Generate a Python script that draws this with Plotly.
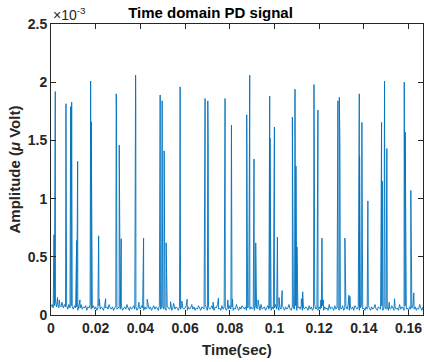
import plotly.graph_objects as go

# ---- data (amplitudes in units of 1e-3 V, times in seconds) ----
baseline_dt = 0.0005
baseline_mv = [
    0.07,0.09,0.06,0.08,0.11,0.07,0.09,0.06,0.08,0.07,0.10,0.06,0.09,0.07,0.08,0.05,0.09,0.06,0.08,0.07,
    0.05,0.08,0.06,0.07,0.04,0.08,0.06,0.09,0.05,0.07,0.06,0.08,0.04,0.07,0.06,0.09,0.05,0.06,0.08,0.05,
    0.07,0.04,0.06,0.08,0.05,0.07,0.06,0.04,0.08,0.06,0.07,0.05,0.09,0.06,0.05,0.07,0.04,0.06,0.08,0.05,
    0.06,0.07,0.05,0.08,0.04,0.06,0.07,0.05,0.09,0.06,0.04,0.07,0.05,0.06,0.08,0.05,0.07,0.04,0.06,0.07,
    0.05,0.08,0.06,0.04,0.07,0.05,0.06,0.09,0.05,0.07,0.04,0.06,0.08,0.05,0.07,0.06,0.04,0.08,0.05,0.06,
    0.07,0.05,0.06,0.04,0.08,0.06,0.05,0.07,0.04,0.06,0.09,0.05,0.07,0.06,0.04,0.07,0.05,0.08,0.06,0.05,
    0.06,0.08,0.04,0.07,0.05,0.06,0.09,0.05,0.07,0.04,0.06,0.05,0.08,0.06,0.04,0.07,0.06,0.05,0.09,0.06,
    0.04,0.07,0.05,0.06,0.08,0.05,0.04,0.07,0.06,0.09,0.05,0.06,0.04,0.08,0.05,0.07,0.06,0.04,0.07,0.05,
    0.08,0.05,0.07,0.04,0.06,0.05,0.09,0.06,0.04,0.07,0.05,0.08,0.06,0.05,0.07,0.04,0.06,0.08,0.05,0.07,
    0.05,0.06,0.04,0.08,0.06,0.05,0.07,0.04,0.09,0.05,0.06,0.07,0.04,0.06,0.08,0.05,0.06,0.04,0.07,0.05,
    0.06,0.09,0.05,0.07,0.04,0.06,0.05,0.08,0.06,0.04,0.07,0.05,0.06,0.09,0.05,0.04,0.07,0.06,0.05,0.08,
    0.04,0.06,0.07,0.05,0.08,0.04,0.06,0.05,0.07,0.06,0.04,0.08,0.05,0.07,0.04,0.06,0.09,0.05,0.06,0.04,
    0.07,0.05,0.06,0.08,0.04,0.07,0.05,0.06,0.04,0.09,0.05,0.07,0.06,0.04,0.08,0.05,0.06,0.07,0.04,0.06,
    0.05,0.08,0.04,0.06,0.07,0.05,0.09,0.04,0.06,0.05,0.07,0.04,0.08,0.06,0.05,0.07,0.04,0.06,0.08,0.05,
    0.06,0.04,0.07,0.05,0.08,0.06,0.04,0.07,0.05,0.06,0.09,0.05,0.04,0.07,0.06,0.05,0.08,0.04,0.06,0.07,
    0.05,0.07,0.04,0.06,0.05,0.08,0.06,0.04,0.07,0.05,0.06,0.04,0.09,0.05,0.07,0.06,0.04,0.08,0.05,0.06,
    0.04,0.07,0.05,0.06,0.08,0.05,0.07,0.04,0.06,0.05,0.09,0.06,0.04,0.07,0.05,0.06,0.08,0.05,0.07,0.05,
]

pulse_times = [
    0.00134, 0.00192, 0.00290, 0.00371, 0.00492, 0.00670, 0.00880, 0.00925, 0.01149, 0.01193,
    0.01296, 0.01774, 0.01801, 0.02132, 0.02168, 0.02445, 0.02918, 0.02932, 0.03053, 0.03142,
    0.03786, 0.03795, 0.03933, 0.04143, 0.04304, 0.04885, 0.04974, 0.05064, 0.05153, 0.05350,
    0.05484, 0.05779, 0.05855, 0.06092, 0.06896, 0.07017, 0.07035, 0.07254, 0.07495, 0.07763,
    0.07790, 0.07911, 0.08076, 0.08121, 0.08760, 0.08894, 0.09086, 0.09162, 0.09265, 0.09788,
    0.09801, 0.09998, 0.10132, 0.10203, 0.10346, 0.10802, 0.10919, 0.10963, 0.11008, 0.11205,
    0.11263, 0.11768, 0.11787, 0.11946, 0.12081, 0.12125, 0.12188, 0.12840, 0.12903, 0.12930,
    0.13153, 0.13332, 0.13377, 0.13797, 0.13810, 0.13913, 0.14181, 0.14794, 0.14825, 0.14927,
    0.15030, 0.15138, 0.15374, 0.15808, 0.15853, 0.16103, 0.16237,
]
pulse_mv = [
    0.69, 1.92, 0.15, 0.13, 0.11, 1.815, 1.79, 1.83, 0.64, 1.32,
    0.13, 2.01, 1.66, 0.68, 0.135, 0.14, 1.90, 1.75, 1.46, 0.655,
    2.06, 1.80, 0.11, 0.66, 0.135, 1.89, 1.84, 1.41, 0.62, 0.114,
    0.10, 1.96, 0.12, 0.135, 1.86, 1.84, 1.50, 0.11, 0.145, 1.595,
    1.86, 0.13, 1.63, 0.135, 1.72, 2.06, 1.34, 0.62, 0.13, 1.88,
    1.52, 1.615, 0.67, 0.15, 0.21, 1.70, 1.94, 1.28, 0.585, 0.14,
    0.20, 1.98, 1.37, 1.76, 0.13, 0.66, 0.13, 1.84, 1.87, 1.48,
    0.66, 0.17, 0.16, 1.90, 1.36, 1.655, 0.98, 1.655, 1.15, 2.01,
    1.43, 0.11, 0.14, 2.00, 1.57, 1.07, 0.19,
]

x_ticks = [0, 0.02, 0.04, 0.06, 0.08, 0.1, 0.12, 0.14, 0.16]
y_ticks_mv = [0, 0.5, 1, 1.5, 2, 2.5]
y_tick_labels = ["0", "0.5", "1", "1.5", "2", "2.5"]

# ---- merge baseline samples and pulse peaks into one time series ----
points = [(i * baseline_dt, v) for i, v in enumerate(baseline_mv)]
points += list(zip(pulse_times, pulse_mv))
points.sort(key=lambda p: p[0])
t = [p[0] for p in points]
y = [p[1] * 1e-3 for p in points]

AX = "#262626"
FONT = "Liberation Sans, Arial, sans-serif"

fig = go.Figure(go.Scatter(
    x=t, y=y, mode="lines",
    line=dict(color="#0072BD", width=0.9),
    hoverinfo="skip", showlegend=False,
))

axis_common = dict(
    showgrid=False, zeroline=False, showline=True, linecolor=AX, linewidth=1,
    mirror="ticks", ticks="inside", ticklen=5, tickcolor=AX, tickwidth=1,
    tickfont=dict(family=FONT, size=14, color=AX, weight="bold"),
    automargin=False,
)

fig.update_layout(
    width=424, height=362,
    margin=dict(l=51, r=1, t=24, b=47),
    paper_bgcolor="white", plot_bgcolor="white",
    title=dict(text="<b>Time domain PD signal</b>", x=0.4965, xref="container", xanchor="center",
               y=0.965, yref="container", yanchor="middle",
               font=dict(family=FONT, size=15, color="black")),
    xaxis=dict(range=[0, 0.16648], tickvals=x_ticks,
               title=dict(text="<b>Time(sec)</b>", standoff=9,
                          font=dict(family=FONT, size=15, color=AX)),
               **axis_common),
    yaxis=dict(range=[0, 0.0025], tickvals=[v * 1e-3 for v in y_ticks_mv], ticktext=y_tick_labels,
               title=dict(text="<b>Amplitude (<i>μ</i> Volt)</b>", standoff=3,
                          font=dict(family=FONT, size=15, color=AX)),
               **axis_common),
    annotations=[dict(text="×10<sup>-3</sup>", x=0, y=1, xref="paper", yref="paper",
                      xanchor="left", yanchor="bottom", showarrow=False, yshift=-1,
                      font=dict(family=FONT, size=14, color=AX))],
)

fig.write_html("out.html", config={"displayModeBar": False},
               post_script="document.body.style.margin='0';document.body.style.overflow='hidden';")
